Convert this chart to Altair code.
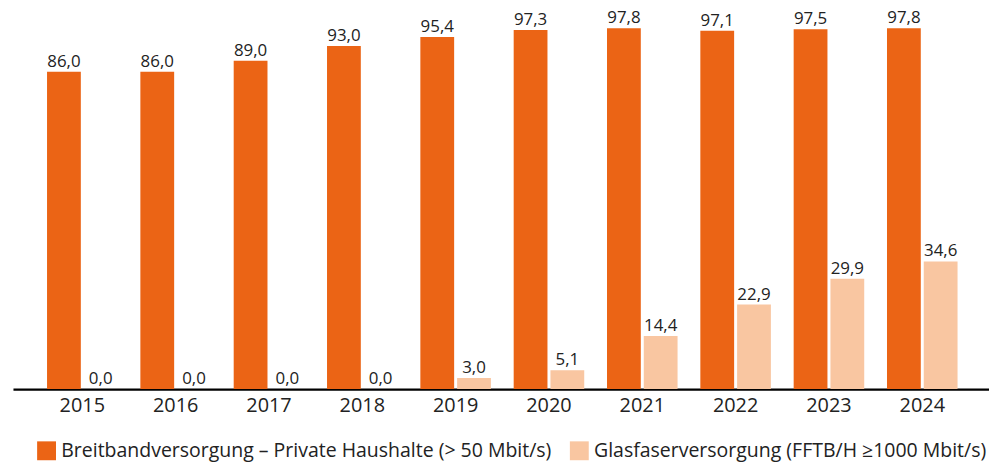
import altair as alt
import pandas as pd

years = ["2015", "2016", "2017", "2018", "2019", "2020", "2021", "2022", "2023", "2024"]
breitband = [86.0, 86.0, 89.0, 93.0, 95.4, 97.3, 97.8, 97.1, 97.5, 97.8]
glasfaser = [0.0, 0.0, 0.0, 0.0, 3.0, 5.1, 14.4, 22.9, 29.9, 34.6]
series = [
    "Breitbandversorgung – Private Haushalte (> 50 Mbit/s)",
    "Glasfaserversorgung (FFTB/H ≥1000 Mbit/s)",
]
colors = ["#EB6415", "#F9C6A1"]

rows = []
for y, b, g in zip(years, breitband, glasfaser):
    rows.append({"year": y, "series": series[0], "value": b, "label": f"{b:.1f}".replace(".", ",")})
    rows.append({"year": y, "series": series[1], "value": g, "label": f"{g:.1f}".replace(".", ",")})
df = pd.DataFrame(rows)

FONT = "Open Sans"

base = alt.Chart(df).encode(
    x=alt.X(
        "year:N",
        title=None,
        scale=alt.Scale(paddingInner=0.244, paddingOuter=0.351, align=0.52, round=False),
        axis=alt.Axis(
            labelAngle=0,
            labelFontSize=20,
            labelFont=FONT,
            labelColor="#222222",
            labelPadding=7,
            ticks=False,
            domainColor="#000000",
            domainWidth=2.2,
            grid=False,
        ),
    ),
    xOffset=alt.XOffset(
        "series:N", sort=series, scale=alt.Scale(paddingInner=0.081, paddingOuter=0, round=False)
    ),
    y=alt.Y("value:Q", scale=alt.Scale(domain=[0, 102.9], nice=False), axis=None),
)

bars = base.mark_bar().encode(
    color=alt.Color(
        "series:N",
        sort=series,
        scale=alt.Scale(domain=series, range=colors),
        legend=alt.Legend(
            title=None,
            orient="none",
            legendX=24,
            legendY=434,
            direction="horizontal",
            symbolType="square",
            symbolSize=361,
            symbolStrokeWidth=0,
            labelFontSize=19.6,
            labelFont=FONT,
            labelColor="#222222",
            labelLimit=0,
            columnPadding=18,
            symbolOffset=0,
            labelOffset=5,
        ),
    )
)

text = base.mark_text(baseline="alphabetic", dy=-5, fontSize=17, font=FONT, color="#222222").encode(
    text="label:N"
)

chart = (
    alt.layer(bars, text)
    .properties(
        width=982,
        height=382,
        autosize=alt.AutoSizeParams(type="none"),
        padding={"left": 5, "top": 0, "right": 0, "bottom": 77},
    )
    .configure_view(stroke=None)
)

chart.save("out.html", embed_options={"renderer": "svg", "actions": False})
